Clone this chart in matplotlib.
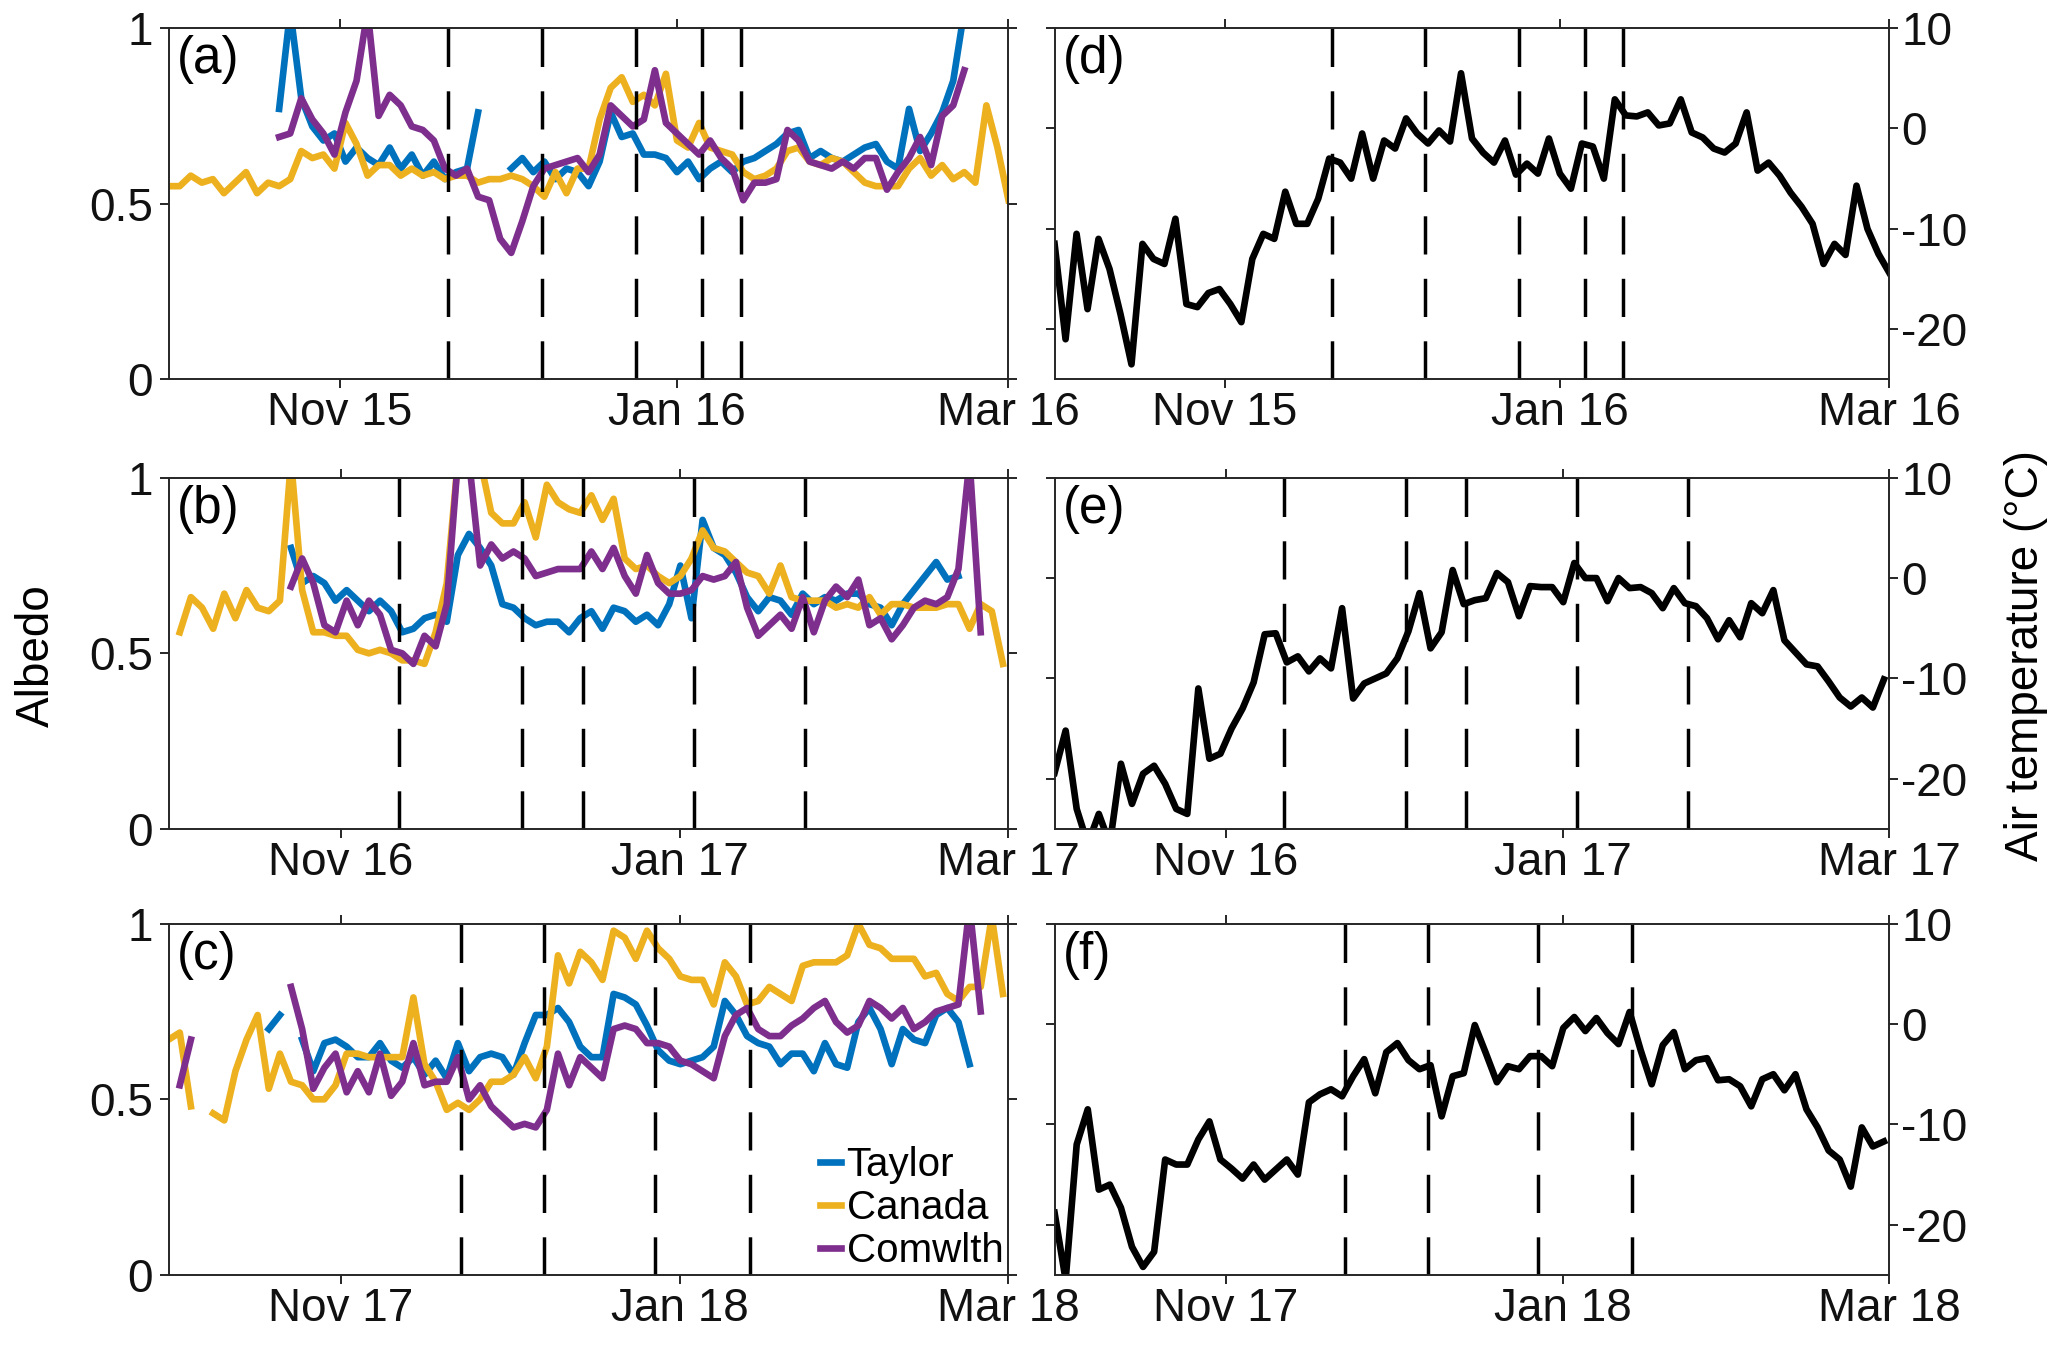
import numpy as np
import pandas as pd
import matplotlib
matplotlib.use("Agg")
import matplotlib.pyplot as plt
import matplotlib.dates as mdates

nan = np.nan

# albedo and air temperature, every 2nd day from Oct 1 of each season
taylor_a = [nan] * 10 + [
    0.77, 1.05, 0.80, 0.72, 0.68, 0.70, 0.62, 0.66, 0.63, 0.61,
    0.66, 0.60, 0.64, 0.58, 0.62, 0.57, 0.59, 0.60, 0.76, nan,
    nan, 0.60, 0.63, 0.59, 0.62, 0.57, 0.60, 0.59, 0.55, 0.62,
    0.76, 0.69, 0.70, 0.64, 0.64, 0.63, 0.59, 0.62, 0.57, 0.60,
    0.62, 0.59, 0.62, 0.63, 0.65, 0.67, 0.70, 0.71, 0.63, 0.65,
    0.63, 0.62, 0.64, 0.66, 0.67, 0.62, 0.60, 0.77, 0.65, 0.70,
    0.76, 0.85, 1.05] + [nan] * 4
canada_a = [
    0.55, 0.55, 0.58, 0.56, 0.57, 0.53, 0.56, 0.59, 0.53, 0.56,
    0.55, 0.57, 0.65, 0.63, 0.64, 0.60, 0.73, 0.67, 0.58, 0.61,
    0.61, 0.58, 0.60, 0.58, 0.59, 0.57, 0.58, 0.58, 0.56, 0.57,
    0.57, 0.58, 0.57, 0.55, 0.52, 0.59, 0.53, 0.60, 0.60, 0.74,
    0.83, 0.86, 0.79, 0.81, 0.78, 0.87, 0.68, 0.66, 0.73, 0.66,
    0.65, 0.64, 0.59, 0.57, 0.58, 0.60, 0.65, 0.66, 0.62, 0.61,
    0.63, 0.62, 0.59, 0.56, 0.55, 0.55, 0.55, 0.60, 0.63, 0.58,
    0.61, 0.57, 0.59, 0.56, 0.78, 0.66, 0.51]
comwlth_a = [nan] * 10 + [
    0.69, 0.70, 0.80, 0.74, 0.70, 0.64, 0.76, 0.85, 1.05, 0.75,
    0.81, 0.78, 0.72, 0.71, 0.68, 0.60, 0.58, 0.60, 0.52, 0.51,
    0.40, 0.36, 0.45, 0.55, 0.60, 0.61, 0.62, 0.63, 0.59, 0.64,
    0.78, 0.75, 0.72, 0.74, 0.88, 0.73, 0.70, 0.67, 0.64, 0.68,
    0.63, 0.60, 0.51, 0.56, 0.56, 0.57, 0.71, 0.68, 0.62, 0.61,
    0.60, 0.62, 0.60, 0.63, 0.63, 0.54, 0.59, 0.63, 0.69, 0.61,
    0.75, 0.78, 0.88] + [nan] * 4
temp_d = [
    -11.5, -21, -10.5, -18, -11, -14, -18.5, -23.5, -11.5, -13,
    -13.5, -9, -17.5, -17.8, -16.4, -16, -17.5, -19.3, -13, -10.5,
    -11, -6.3, -9.5, -9.5, -7, -3, -3.4, -5, -0.5, -5,
    -1.2, -2, 1, -0.5, -1.5, -0.2, -1.3, 5.5, -1, -2.4,
    -3.4, -1.2, -4.6, -3.5, -4.5, -1, -4.5, -6, -1.5, -1.8,
    -5, 2.9, 1.3, 1.2, 1.6, 0.3, 0.5, 2.9, -0.4, -0.9,
    -2, -2.4, -1.5, 1.6, -4.2, -3.4, -4.7, -6.4, -7.8, -9.5,
    -13.5, -11.5, -12.6, -5.7, -10, -12.5, -14.4]

taylor_b = [nan] * 11 + [
    0.80, 0.70, 0.72, 0.70, 0.65, 0.68, 0.65, 0.62, 0.65, 0.62,
    0.56, 0.57, 0.60, 0.61, 0.59, 0.78, 0.84, 0.80, 0.75, 0.64,
    0.63, 0.60, 0.58, 0.59, 0.59, 0.56, 0.60, 0.62, 0.57, 0.63,
    0.62, 0.59, 0.61, 0.58, 0.64, 0.75, 0.60, 0.88, 0.80, 0.78,
    0.73, 0.66, 0.62, 0.66, 0.65, 0.61, 0.67, 0.64, 0.66, 0.65,
    0.67, 0.67, 0.64, 0.63, 0.58, 0.64, 0.68, 0.72, 0.76, 0.71,
    0.72] + [nan] * 4
canada_b = [
    nan, 0.56, 0.66, 0.63, 0.57, 0.67, 0.60, 0.68, 0.63, 0.62,
    0.65, 1.05, 0.68, 0.56, 0.56, 0.55, 0.55, 0.51, 0.50, 0.51,
    0.50, 0.48, 0.48, 0.47, 0.56, 0.70, 1.05, 1.05, 1.05, 0.90,
    0.87, 0.87, 0.93, 0.83, 0.98, 0.93, 0.91, 0.90, 0.95, 0.88,
    0.94, 0.77, 0.74, 0.75, 0.72, 0.70, 0.72, 0.77, 0.85, 0.80,
    0.79, 0.76, 0.73, 0.72, 0.67, 0.75, 0.66, 0.65, 0.65, 0.65,
    0.63, 0.64, 0.63, 0.66, 0.61, 0.64, 0.64, 0.63, 0.63, 0.63,
    0.64, 0.64, 0.57, 0.64, 0.62, 0.47]
comwlth_b = [nan] * 11 + [
    0.69, 0.77, 0.70, 0.58, 0.56, 0.65, 0.58, 0.65, 0.61, 0.51,
    0.50, 0.47, 0.55, 0.52, 0.64, 1.05, 1.05, 0.75, 0.81, 0.77,
    0.79, 0.77, 0.72, 0.73, 0.74, 0.74, 0.74, 0.79, 0.74, 0.80,
    0.72, 0.67, 0.78, 0.70, 0.67, 0.67, 0.68, 0.72, 0.71, 0.72,
    0.76, 0.63, 0.55, 0.58, 0.61, 0.57, 0.66, 0.56, 0.65, 0.69,
    0.66, 0.71, 0.58, 0.60, 0.54, 0.58, 0.63, 0.65, 0.64, 0.66,
    0.74, 1.05, 0.56] + [nan] * 2
temp_e = [
    -19.4, -15.2, -23, -26.5, -23.5, -26.5, -18.5, -22.5, -19.5, -18.7,
    -20.5, -23, -23.5, -11, -18, -17.5, -15, -13, -10.4, -5.6,
    -5.5, -8.4, -7.8, -9.3, -8, -9, -3, -12, -10.5, -10,
    -9.5, -8, -5.3, -1.5, -7, -5.4, 0.8, -2.6, -2.2, -2,
    0.5, -0.4, -3.8, -0.8, -0.9, -0.9, -2.4, 1.5, 0, 0,
    -2.3, 0, -1, -0.9, -1.5, -3, -1, -2.5, -2.8, -4,
    -6.1, -4.2, -5.9, -2.5, -3.5, -1.2, -6.2, -7.4, -8.6, -8.8,
    -10.3, -11.9, -12.8, -11.9, -12.9, -10.1]

taylor_c = [nan] * 9 + [
    0.70, 0.74, nan, 0.67, 0.58, 0.66, 0.67, 0.65, 0.62, 0.62,
    0.66, 0.61, 0.59, 0.62, 0.57, 0.61, 0.56, 0.66, 0.58, 0.62,
    0.63, 0.62, 0.57, 0.66, 0.74, 0.74, 0.76, 0.72, 0.65, 0.62,
    0.62, 0.80, 0.79, 0.77, 0.71, 0.64, 0.61, 0.60, 0.61, 0.62,
    0.65, 0.78, 0.74, 0.68, 0.66, 0.65, 0.60, 0.63, 0.63, 0.58,
    0.66, 0.60, 0.59, 0.72, 0.76, 0.70, 0.60, 0.70, 0.67, 0.66,
    0.74, 0.76, 0.72, 0.60] + [nan] * 3
canada_c = [
    0.67, 0.69, 0.48, nan, 0.46, 0.44, 0.58, 0.67, 0.74, 0.53,
    0.63, 0.55, 0.54, 0.50, 0.50, 0.54, 0.63, 0.63, 0.62, 0.62,
    0.62, 0.62, 0.79, 0.60, 0.55, 0.47, 0.49, 0.47, 0.50, 0.55,
    0.55, 0.57, 0.62, 0.56, 0.65, 0.91, 0.83, 0.92, 0.89, 0.84,
    0.98, 0.96, 0.90, 0.98, 0.93, 0.90, 0.85, 0.84, 0.84, 0.77,
    0.89, 0.85, 0.77, 0.78, 0.82, 0.80, 0.78, 0.88, 0.89, 0.89,
    0.89, 0.91, 1.00, 0.94, 0.93, 0.90, 0.90, 0.90, 0.85, 0.86,
    0.80, 0.78, 0.82, 0.82, 1.02, 0.80]
comwlth_c = [nan, 0.54, 0.67] + [nan] * 8 + [
    0.82, 0.70, 0.53, 0.59, 0.63, 0.52, 0.58, 0.52, 0.63, 0.51,
    0.55, 0.66, 0.54, 0.55, 0.55, 0.62, 0.50, 0.54, 0.48, 0.45,
    0.42, 0.43, 0.42, 0.47, 0.63, 0.54, 0.62, 0.59, 0.56, 0.70,
    0.71, 0.70, 0.66, 0.66, 0.65, 0.61, 0.60, 0.58, 0.56, 0.68,
    0.74, 0.76, 0.70, 0.68, 0.68, 0.71, 0.73, 0.76, 0.78, 0.72,
    0.69, 0.71, 0.78, 0.76, 0.73, 0.76, 0.70, 0.72, 0.75, 0.76,
    0.77, 1.05, 0.75] + [nan] * 2
temp_f = [
    -18.8, -25.5, -12, -8.5, -16.5, -16, -18.3, -22.2, -24.2, -22.7,
    -13.5, -14, -14, -11.5, -9.7, -13.5, -14.4, -15.4, -14, -15.5,
    -14.5, -13.5, -15, -7.8, -7, -6.5, -7.2, -5.2, -3.5, -6.9,
    -2.8, -1.9, -3.6, -4.5, -4.1, -9.2, -5.2, -4.9, -0.1, -2.9,
    -5.8, -4.2, -4.5, -3.2, -3.2, -4.2, -0.4, 0.7, -0.7, 0.6,
    -0.9, -2, 1.2, -2.6, -6, -2.1, -0.8, -4.5, -3.6, -3.4,
    -5.6, -5.5, -6.2, -8.2, -5.5, -5, -6.6, -5, -8.5, -10.3,
    -12.6, -13.5, -16.2, -10.3, -12.2, -11.7]

# event days (days after Oct 1) marked with dashed lines
events_1 = [50.5, 67.5, 84.5, 96.5, 103.5]
events_2 = [41.5, 63.5, 74.5, 94.5, 114.5]
events_3 = [52.5, 67.5, 87.5, 104.5]

season_years = [2015, 2016, 2017]
site_names = ["Taylor", "Canada", "Comwlth"]
site_colors = ["#0072BD", "#EDB120", "#7E2F8E"]
panel_left = ["(a)", "(b)", "(c)"]
panel_right = ["(d)", "(e)", "(f)"]

albedo = [[taylor_a, canada_a, comwlth_a],
          [taylor_b, canada_b, comwlth_b],
          [taylor_c, canada_c, comwlth_c]]
temps = [temp_d, temp_e, temp_f]
events = [events_1, events_2, events_3]

plt.rcParams["font.family"] = ["Liberation Sans", "DejaVu Sans"]
axcol = "#262626"
fs = 33

fig = plt.figure(figsize=(20.67, 13.51), dpi=100)
bottoms = [0.7192, 0.3864, 0.0563]
h = 0.260


def style(ax, yr):
    start = pd.Timestamp(f"{yr}-10-01")
    end = pd.Timestamp(f"{yr + 1}-03-01")
    ax.set_xlim(start, end)
    ax.set_xticks([pd.Timestamp(f"{yr}-11-01"), pd.Timestamp(f"{yr + 1}-01-01"), end])
    ax.xaxis.set_major_formatter(mdates.DateFormatter("%b %y"))
    ax.tick_params(direction="out", length=6.5, width=1.4, labelsize=fs,
                   top=True, right=True, color=axcol, labelcolor="#111111")
    ax.tick_params(axis="x", pad=2)
    for sp in ax.spines.values():
        sp.set_linewidth(1.4)
        sp.set_color(axcol)
    return start


for i, yr in enumerate(season_years):
    # albedo
    ax = fig.add_axes([0.0816, bottoms[i], 0.4063, h])
    start = style(ax, yr)
    for vals, name, col in zip(albedo[i], site_names, site_colors):
        t = start + pd.to_timedelta(2 * np.arange(len(vals)), unit="D")
        ax.plot(t, vals, color=col, lw=4.8, label=name, solid_joinstyle="round")
    for d in events[i]:
        x = start + pd.Timedelta(days=d)
        ax.plot([x, x], [0, 1], color="black", lw=2.5, dashes=(11, 7))
    ax.set_ylim(0, 1)
    ax.set_yticks([0, 0.5, 1])
    ax.set_yticklabels(["0", "0.5", "1"])
    ax.tick_params(axis="y", pad=5)
    ax.text(0.01, 0.98, panel_left[i], transform=ax.transAxes,
            fontsize=37, va="top", ha="left")
    if i == 2:
        ax.legend(loc="lower right", bbox_to_anchor=(1.025, -0.06), frameon=False,
                  fontsize=29, handlelength=0.5, handletextpad=0.15,
                  labelspacing=0.12, borderaxespad=0.25)

    # air temperature
    ax2 = fig.add_axes([0.5102, bottoms[i], 0.4039, h])
    start = style(ax2, yr)
    t = start + pd.to_timedelta(2 * np.arange(len(temps[i])), unit="D")
    ax2.plot(t, temps[i], color="black", lw=4.8, solid_joinstyle="round")
    for d in events[i]:
        x = start + pd.Timedelta(days=d)
        ax2.plot([x, x], [-25, 10], color="black", lw=2.5, dashes=(11, 7))
    ax2.set_ylim(-25, 10)
    ax2.set_yticks([-20, -10, 0, 10])
    ax2.set_yticklabels(["-20", "-10", "0", "10"])
    ax2.tick_params(axis="y", labelleft=False, labelright=True, pad=2)
    ax2.text(0.01, 0.98, panel_right[i], transform=ax2.transAxes,
             fontsize=37, va="top", ha="left")

fig.text(0.018, 0.515, "Albedo", rotation=90, va="center", ha="center", fontsize=33)
fig.text(0.980, 0.515, "Air temperature (°C)", rotation=90, va="center",
         ha="center", fontsize=33)

fig.savefig("out.png", dpi=100)
